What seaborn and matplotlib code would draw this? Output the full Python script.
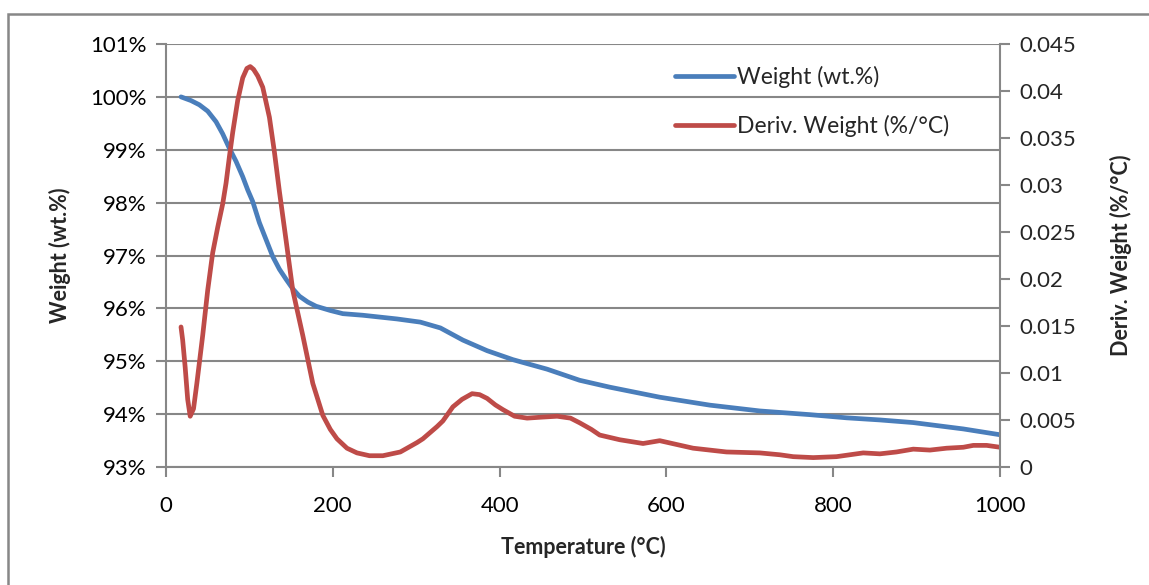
import numpy as np
import pandas as pd
import matplotlib
matplotlib.use("Agg")
import matplotlib.pyplot as plt
import seaborn as sns
from matplotlib.patches import Rectangle
from matplotlib.ticker import FuncFormatter

# Weight curve (wt.%)
temp_w = [18, 30, 40, 50, 60, 68, 75, 84, 92, 98, 104, 112, 120, 128, 136, 144,
          152, 160, 170, 180, 197, 212, 236, 277, 305, 329, 356, 385, 416, 457,
          496, 532, 592, 652, 712, 772, 816, 856, 896, 956, 1000]
weight = [100.0, 99.93, 99.85, 99.73, 99.53, 99.30, 99.06, 98.78, 98.49, 98.24,
          98.02, 97.62, 97.30, 96.98, 96.74, 96.55, 96.37, 96.23, 96.12, 96.04,
          95.96, 95.90, 95.87, 95.80, 95.74, 95.63, 95.40, 95.20, 95.03, 94.85,
          94.64, 94.51, 94.32, 94.17, 94.06, 93.99, 93.93, 93.89, 93.84, 93.72, 93.61]

# Derivative weight (%/°C)
temp_d = [18, 20, 23, 26, 29, 33, 37, 44, 50, 56, 62, 68, 72, 76, 80, 86, 92,
          97, 101, 105, 110, 116, 124, 130, 136, 144, 152, 164, 176, 188,
          197, 205, 217, 229, 244, 260, 281, 301, 308, 325, 332, 344, 355, 367,
          376, 385, 395, 404, 418, 433, 450, 469, 485, 496, 510, 520, 544, 572,
          592, 612, 632, 672, 712, 736, 752, 776, 804, 836, 856, 876, 896, 916,
          936, 956, 968, 984, 1000]
deriv = [0.0149, 0.0135, 0.0106, 0.0072, 0.0054, 0.0062, 0.0089, 0.0140, 0.0188,
         0.0228, 0.0255, 0.0280, 0.0302, 0.0330, 0.0356, 0.0390, 0.0414, 0.0424,
         0.0426, 0.0423, 0.0416, 0.0404, 0.0372, 0.0335, 0.0293, 0.0241,
         0.0188, 0.0140, 0.0089, 0.0055, 0.0040, 0.0030, 0.0020, 0.0015, 0.0012,
         0.0012, 0.0016, 0.0026, 0.0030, 0.0043, 0.0049, 0.0064, 0.0072, 0.0078,
         0.0077, 0.0073, 0.0066, 0.0061, 0.0054, 0.0052, 0.0053, 0.0054, 0.0052,
         0.0047, 0.0040, 0.0034, 0.0029, 0.0025, 0.0028, 0.0024, 0.0020, 0.0016,
         0.0015, 0.0013, 0.0011, 0.0010, 0.0011, 0.0015, 0.0014, 0.0016, 0.0019,
         0.0018, 0.0020, 0.0021, 0.0023, 0.0023, 0.0021]

blue = "#4A7EBB"
red = "#BE4B48"
grid_gray = "#878787"

sns.set_style("white")
plt.rcParams['font.family'] = ['Lato', 'DejaVu Sans']

fig = plt.figure(figsize=(11.49, 5.85), dpi=100)
ax = fig.add_axes([166 / 1149, 1 - 467 / 585, 834 / 1149, 423 / 585])
ax2 = ax.twinx()

sns.lineplot(x=temp_w, y=weight, ax=ax, color=blue, linewidth=3.4,
             label="Weight (wt.%)", legend=False)
sns.lineplot(x=temp_d, y=deriv, ax=ax2, color=red, linewidth=3.4,
             label="Deriv. Weight (%/°C)", legend=False)

ax.set_xlim(0, 1000)
ax.set_ylim(93, 101)
ax.set_yticks(np.arange(93, 102, 1))
ax.yaxis.set_major_formatter(FuncFormatter(lambda v, p: f"{v:.0f}%"))
ax.set_xticks(np.arange(0, 1001, 200))
ax2.set_ylim(0, 0.045)
ax2.set_yticks([0, 0.005, 0.01, 0.015, 0.02, 0.025, 0.03, 0.035, 0.04, 0.045])
ax2.set_yticklabels(["0", "0.005", "0.01", "0.015", "0.02", "0.025", "0.03",
                     "0.035", "0.04", "0.045"])

ax.grid(axis="y", color=grid_gray, linewidth=1.5)
ax.grid(axis="x", visible=False)
ax.set_axisbelow(True)

for a in (ax, ax2):
    a.spines["top"].set_visible(False)
    for s in ("left", "right", "bottom"):
        a.spines[s].set_color(grid_gray)
        a.spines[s].set_linewidth(1.5)
ax.spines["right"].set_visible(False)
ax2.spines["left"].set_visible(False)
ax2.spines["bottom"].set_visible(False)

ax.tick_params(axis="both", which="major", direction="out", length=7,
               width=1.5, color=grid_gray, labelsize=16, labelcolor="#000000",
               left=True, bottom=True)
ax.tick_params(axis="y", pad=7)
ax.tick_params(axis="x", pad=14)
ax2.tick_params(axis="y", direction="out", length=7, width=1.5,
                color=grid_gray, labelsize=16, right=True, pad=7)

ax.set_xlabel("Temperature (°C)", fontsize=15.5, fontweight="bold", labelpad=14)
ax.set_ylabel("Weight (wt.%)", fontsize=15.5, fontweight="bold", labelpad=14)
ax2.set_ylabel("Deriv. Weight (%/°C)", fontsize=15.5, fontweight="bold",
               labelpad=24)

h1, l1 = ax.get_legend_handles_labels()
h2, l2 = ax2.get_legend_handles_labels()
leg = ax2.legend(h1 + h2, l1 + l2, loc="center left",
                 bbox_to_anchor=(0.61, 0.864), frameon=False, fontsize=16.5,
                 handlelength=2.6, handletextpad=0.1, labelspacing=1.15,
                 borderpad=0, borderaxespad=0)

# chart area border
fig.patches.append(Rectangle((8 / 1149, -0.05), 1.1, 1 - 14 / 585 + 0.05,
                             transform=fig.transFigure, fill=False,
                             edgecolor=grid_gray, linewidth=1.8))

fig.savefig("out.png", dpi=100)
